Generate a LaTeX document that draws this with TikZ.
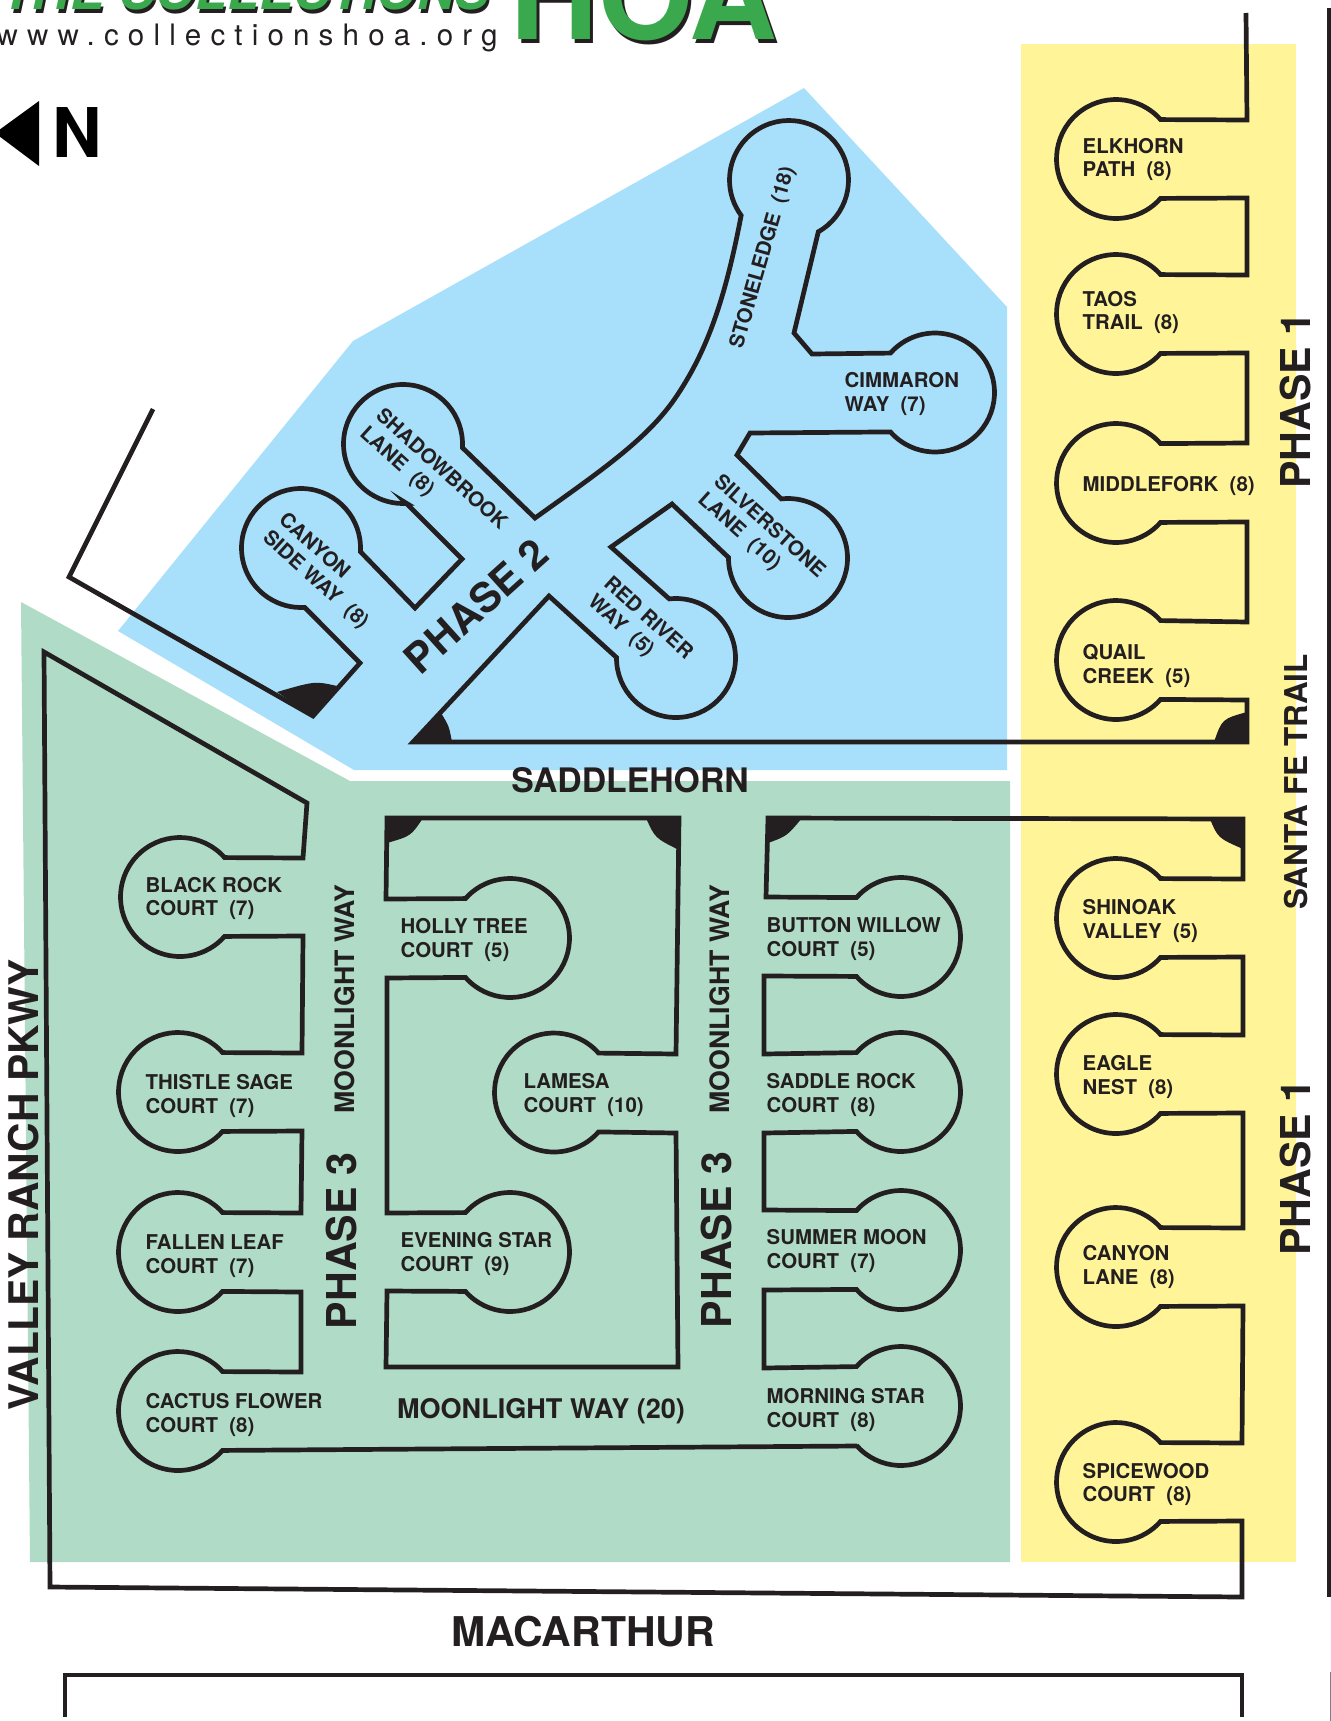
\documentclass[tikz,border=0pt]{standalone}
\usepackage{fontspec}
\setmainfont{TeX Gyre Heros}
\newfontfamily\webfont[LetterSpace=31]{TeX Gyre Heros}
\usetikzlibrary{calc}
\definecolor{ink}{HTML}{231F20}
\definecolor{bluelot}{HTML}{A8DFFA}
\definecolor{greenlot}{HTML}{B0DBC6}
\definecolor{yellowlot}{HTML}{FFF498}
\definecolor{logogreen}{HTML}{3AA84C}
\newcommand{\bulb}[3]{-- ({#1+59.5*cos(#3-41.5)},{#2+59.5*sin(#3-41.5)}) arc[start angle=#3-41.5, delta angle=-277, radius=59.5]}
\tikzset{
    road/.style = {draw=ink, line width=0.047cm},
    wedge/.style = {fill=ink},
    court/.style = {font=\fontsize{5.8}{6.8}\selectfont\bfseries, align=left, anchor=west, inner sep=0pt, text=ink},
    street/.style = {font=\fontsize{7.6}{9}\selectfont\bfseries, inner sep=0pt, text=ink},
    phase/.style = {font=\fontsize{11.7}{13}\selectfont\bfseries, inner sep=0pt, text=ink}
}
\begin{document}
\begin{tikzpicture}[x=0.01cm,y=-0.01cm]
  \useasboundingbox (0,0) rectangle (1331,1721);

  \fill[yellowlot] (1021,44) rectangle (1296,1562);
  \fill[bluelot] (804,88) -- (1007,307) -- (1007,770) -- (354,770) -- (118,631) -- (353,341) -- cycle;
  \fill[greenlot] (21,602) -- (350,781) -- (1010,781) -- (1010,1562) -- (30,1562) -- cycle;

  % logo
  \node[font=\fontsize{14.7}{16}\selectfont\bfseries\itshape, text=ink, inner sep=0pt, anchor=base] (logoback) at (247,13) {THE COLLECTIONS};
  \node[font=\fontsize{14.7}{16}\selectfont\bfseries\itshape, text=logogreen, inner sep=0pt, anchor=base] (logo) at (245,10) {THE COLLECTIONS};
  \node[font=\fontsize{34.6}{38}\selectfont\bfseries, text=ink, inner sep=0pt, anchor=base] (hoaback) at (647,44) {HOA};
  \node[font=\fontsize{34.6}{38}\selectfont\bfseries, text=logogreen, inner sep=0pt, anchor=base] (hoa) at (644,40) {HOA};
  \node[font=\fontsize{8.4}{10}\selectfont\webfont, text=ink, inner sep=0pt, anchor=base west] (web) at (-4,45) {www.collectionshoa.org};

  % north arrow
  \fill[black] (39,101) -- (39,166) -- (-5,133) -- cycle;
  \node[font=\fontsize{19.5}{21}\selectfont\bfseries, text=black, inner sep=0pt] (north) at (77,133) {N};

  % phase 1 north and phase 2
  \path[road] (1246,13) -- (1247,120) \bulb{1116}{159}{0} -- (1247,198) -- (1247,275) \bulb{1116}{314}{0} -- (1247,353)
    -- (1247,443) \bulb{1116}{483}{0} -- (1247,522) -- (1247,622) \bulb{1116}{660}{0} -- (1247,700) -- (1247,742)
    -- (413,742) -- (549,596) \bulb{676}{658}{-138} -- (611,547) -- (672,504) \bulb{788}{558}{-138} -- (737,455) -- (750,433)
    \bulb{935}{392.5}{180} -- (812,354) -- (794,333) \bulb{789}{180}{102}
    .. controls (725,300) and (707,350) .. (678,394) .. controls (650,437) and (605,468) .. (535,518)
    \bulb{403}{444}{45} -- (406,503) -- (462,559) -- (415,608) \bulb{301}{548}{45} -- (360,663) -- (313,716) -- (69,577) -- (153,409);

  % phase 1 south and phase 3
  \path[road] (1243,819) -- (1243,879) \bulb{1116}{918}{0} -- (1243,957) -- (1243,1035) \bulb{1116}{1074}{0} -- (1243,1113)
    -- (1243,1228) \bulb{1116}{1267}{0} -- (1243,1306) -- (1242,1443) \bulb{1116}{1482}{0} -- (1242,1521) -- (1242,1597)
    -- (50,1587) -- (44,652) -- (307,803) -- (303,858) \bulb{180}{897}{0} -- (303,936) -- (302,1053) \bulb{178}{1092}{0}
    -- (302,1131) -- (301,1213) \bulb{178}{1252}{0} -- (301,1292) -- (301,1372) \bulb{178}{1411}{0}
    -- (857,1446) \bulb{901}{1406}{180} -- (764,1368) -- (764,1290) \bulb{901}{1250}{180} -- (764,1210) -- (764,1133)
    \bulb{901}{1092}{180} -- (764,1054) -- (764,976) \bulb{901}{937}{180} -- (766,897) -- (768,818) -- cycle;

  \path[road] (387,818) -- (679,818) -- (676,1054) \bulb{554}{1092.5}{0} -- (676,1133) -- (678,1367) -- (386,1367)
    -- (387,1291) \bulb{510}{1252}{180} -- (387,1213) -- (387,978) \bulb{510}{938}{180} -- (386,899) -- cycle;

  \path[road] (1329,8) -- (1329,1597);
  \path[road] (65,1717) -- (65,1675) -- (1242,1675) -- (1242,1717);
  \path[draw=gray, line width=0.02cm] (1331,1672) -- (1331,1721);

  % corners
  \fill[wedge] (1247,712) .. controls (1222,719) .. (1214,742) -- (1247,742) -- cycle;
  \fill[wedge] (441,713) .. controls (449,726) .. (452,742) -- (413,742) -- cycle;
  \fill[wedge] (277,692) .. controls (315,681) .. (337,686) -- (313,716) -- cycle;
  \fill[wedge] (423,818) .. controls (411,836) .. (387,843) -- (387,818) -- cycle;
  \fill[wedge] (646,818) .. controls (655,838) .. (679,850) -- (679,818) -- cycle;
  \fill[wedge] (802,818) .. controls (787,836) .. (768,843) -- (768,818) -- cycle;
  \fill[wedge] (1210,819) .. controls (1218,838) .. (1243,849) -- (1243,819) -- cycle;

  % courts
  \node[court] (elkhorn) at (1082,159.5) {ELKHORN\\PATH~~(8)};
  \node[court] (taos) at (1082,312.5) {TAOS\\TRAIL~~(8)};
  \node[court] (middlefork) at (1082,486) {MIDDLEFORK~~(8)};
  \node[court] (quail) at (1082,666) {QUAIL\\CREEK~~(5)};
  \node[court] (shinoak) at (1082,921) {SHINOAK\\VALLEY~~(5)};
  \node[court] (eagle) at (1082,1077) {EAGLE\\NEST~~(8)};
  \node[court] (canyonlane) at (1082,1267) {CANYON\\LANE~~(8)};
  \node[court] (spicewood) at (1082,1484.5) {SPICEWOOD\\COURT~~(8)};

  \node[court] (blackrock) at (145,898.5) {BLACK ROCK\\COURT~~(7)};
  \node[court] (thistle) at (145,1096) {THISTLE SAGE\\COURT~~(7)};
  \node[court] (fallen) at (145,1256) {FALLEN LEAF\\COURT~~(7)};
  \node[court] (cactus) at (145,1415) {CACTUS FLOWER\\COURT~~(8)};
  \node[court] (holly) at (400,940) {HOLLY TREE\\COURT~~(5)};
  \node[court] (lamesa) at (523,1095) {LAMESA\\COURT~~(10)};
  \node[court] (evening) at (400,1254) {EVENING STAR\\COURT~~(9)};
  \node[court] (button) at (766,939) {BUTTON WILLOW\\COURT~~(5)};
  \node[court] (saddlerock) at (766,1095) {SADDLE ROCK\\COURT~~(8)};
  \node[court] (summer) at (766,1251) {SUMMER MOON\\COURT~~(7)};
  \node[court] (morning) at (766,1410) {MORNING STAR\\COURT~~(8)};

  \node[court] (cimmaron) at (844,394) {CIMMARON\\WAY~~(7)};
  \node[court, anchor=center, rotate=74] (stoneledge) at (763,258) {STONELEDGE~~(18)};
  \node[court, rotate=-42] (shadowbrook) at (370,422) {SHADOWBROOK\\LANE~~(8)};
  \node[court, rotate=-42] (canyonside) at (273,526) {CANYON\\SIDE WAY~~(8)};
  \node[court, rotate=-42] (redriver) at (598,590) {RED RIVER\\WAY~~(5)};
  \node[court, rotate=-42] (silverstone) at (708,488) {SILVERSTONE\\LANE~~(10)};

  % streets and phases
  \node[phase, rotate=42] (phase2) at (476,606) {PHASE 2};
  \node[phase, rotate=90] (phase1a) at (1295,400.5) {PHASE 1};
  \node[phase, rotate=90] (phase1b) at (1295,1167.5) {PHASE 1};
  \node[phase, rotate=90] (phase3a) at (341,1241) {PHASE 3};
  \node[phase, rotate=90] (phase3b) at (716,1240) {PHASE 3};
  \node[street, rotate=90] (moonlighta) at (345,999) {MOONLIGHT WAY};
  \node[street, rotate=90] (moonlightb) at (720,999) {MOONLIGHT WAY};
  \node[street, font=\fontsize{7.7}{9}\selectfont\bfseries] (moonlightc) at (541,1411) {MOONLIGHT WAY (20)};
  \node[street, font=\fontsize{9.6}{11}\selectfont\bfseries] (saddlehorn) at (630,780) {SADDLEHORN};
  \node[street, font=\fontsize{8.95}{11}\selectfont\bfseries, rotate=90] (santafe) at (1296,782) {SANTA FE TRAIL};
  \node[street, font=\fontsize{11.6}{14}\selectfont\bfseries, rotate=90] (valley) at (24,1185) {VALLEY RANCH PKWY};
  \node[street, font=\fontsize{11.65}{13}\selectfont\bfseries] (macarthur) at (583,1632) {MACARTHUR};
\end{tikzpicture}
\end{document}
